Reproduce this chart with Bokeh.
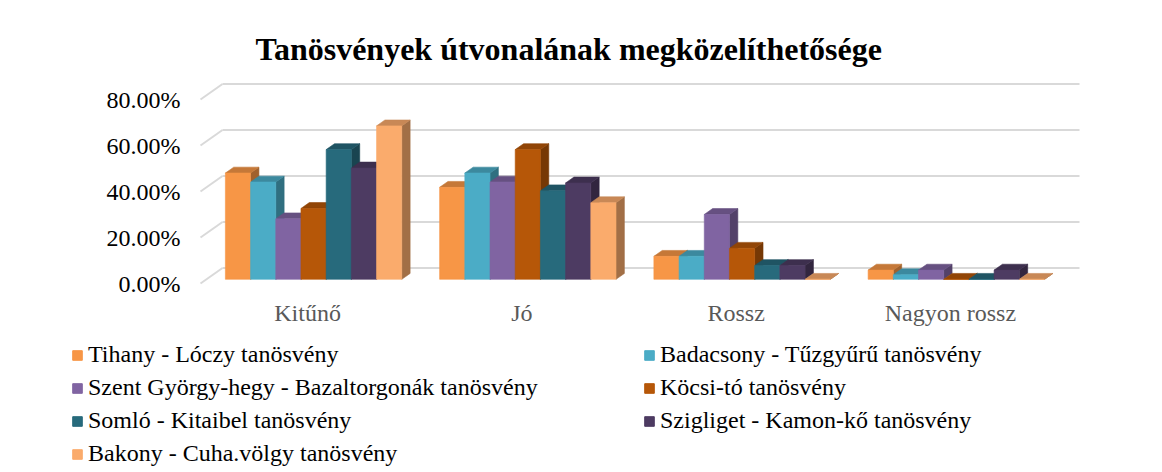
import numpy as np
from bokeh.plotting import figure
from bokeh.models import FixedTicker, PrintfTickFormatter, Legend, LegendItem, Range1d, Title
from bokeh.embed import file_html
from bokeh.resources import INLINE

categories = ["Kitűnő", "Jó", "Rossz", "Nagyon rossz"]
series_names = [
    "Tihany - Lóczy tanösvény",
    "Badacsony - Tűzgyűrű tanösvény",
    "Szent György-hegy - Bazaltorgonák tanösvény",
    "Köcsi-tó tanösvény",
    "Somló - Kitaibel tanösvény",
    "Szigliget - Kamon-kő tanösvény",
    "Bakony - Cuha.völgy tanösvény",
]
tihany = [46.2, 40.0, 10.0, 4.0]
badacsony = [42.3, 46.2, 10.0, 2.0]
szentgyorgy = [26.3, 42.3, 28.2, 4.0]
kocsito = [30.8, 56.4, 13.5, 0.0]
somlo = [56.4, 38.5, 6.0, 0.0]
szigliget = [48.4, 41.9, 6.0, 4.0]
bakony = [66.7, 33.3, 0.0, 0.0]
series_values = [tihany, badacsony, szentgyorgy, kocsito, somlo, szigliget, bakony]
series_colors = ["#F79646", "#4BACC6", "#8064A2", "#B65708", "#276A7C", "#4D3B62", "#FAAB6C"]
y_ticks = [0, 20, 40, 60, 80]

FONT = "Liberation Serif"
PX_X = 214.25
PX_Y = 2.3
DEPTH_X = 22 / PX_X
DEPTH_Y = 15.5 / PX_Y
Z0, Z1 = 0.27, 0.65
BAR_W = 0.1176
TOP_H = 335
TOTAL_W, TOTAL_H = 1162, 472


def shade(c, f):
    r, g, b = int(c[1:3], 16), int(c[3:5], 16), int(c[5:7], 16)
    return "#%02x%02x%02x" % (int(r * f), int(g * f), int(b * f))


p = figure(frame_width=910, frame_height=215,
           x_range=Range1d(-10 / PX_X, 900 / PX_X),
           y_range=Range1d(-7 / PX_Y, 208 / PX_Y),
           output_backend="svg", toolbar_location=None,
           min_border_left=190, min_border_right=62,
           min_border_top=75, min_border_bottom=TOP_H - 290)
p.outline_line_color = None
p.xgrid.visible = False
p.ygrid.visible = False
p.background_fill_color = "white"
p.border_fill_color = "white"

# walls gridlines
ncat = len(categories)
p.segment(x0=[DEPTH_X] * len(y_ticks), x1=[ncat + DEPTH_X] * len(y_ticks),
          y0=[v + DEPTH_Y for v in y_ticks], y1=[v + DEPTH_Y for v in y_ticks],
          line_color="#D9D9D9", line_width=2)
p.segment(x0=[0] * len(y_ticks), x1=[DEPTH_X] * len(y_ticks),
          y0=y_ticks, y1=[v + DEPTH_Y for v in y_ticks],
          line_color="#D9D9D9", line_width=2)

a, b = Z0 * DEPTH_X, Z0 * DEPTH_Y
c, d = Z1 * DEPTH_X, Z1 * DEPTH_Y
nser = len(series_values)
faces = {"side": [], "top": [], "front": []}
for j, vals in enumerate(series_values):
    sx, sy, tx, ty, fx, fy = [], [], [], [], [], []
    for i, v in enumerate(vals):
        L = i + 0.5 - nser / 2 * BAR_W + j * BAR_W
        R = L + BAR_W
        fx.append([L + a, R + a, R + a, L + a])
        fy.append([b, b, b + v, b + v])
        tx.append([L + a, R + a, R + c, L + c])
        ty.append([b + v, b + v, d + v, d + v])
        sx.append([R + a, R + c, R + c, R + a])
        sy.append([b, d, d + v, b + v])
    faces["side"].append((sx, sy, shade(series_colors[j], 0.65)))
    faces["top"].append((tx, ty, shade(series_colors[j], 0.8)))
    faces["front"].append((fx, fy, series_colors[j]))

for kind in ["side", "top", "front"]:
    for xs, ys, col in faces[kind]:
        p.patches(xs=xs, ys=ys, fill_color=col, line_color=col, line_width=0.6)

# axes
p.yaxis.ticker = FixedTicker(ticks=y_ticks)
p.yaxis.formatter = PrintfTickFormatter(format="%.2f%%")
p.yaxis.axis_line_color = None
p.yaxis.major_tick_line_color = None
p.yaxis.minor_tick_line_color = None
p.yaxis.major_label_text_font = FONT
p.yaxis.major_label_text_font_size = "24px"
p.yaxis.major_label_text_color = "#000000"
p.yaxis.major_label_standoff = 4

p.xaxis.ticker = FixedTicker(ticks=[i + 0.5 for i in range(ncat)])
p.xaxis.major_label_overrides = {i + 0.5: cat for i, cat in enumerate(categories)}
p.xaxis.axis_line_color = None
p.xaxis.major_tick_line_color = None
p.xaxis.minor_tick_line_color = None
p.xaxis.major_label_text_font = FONT
p.xaxis.major_label_text_font_size = "24px"
p.xaxis.major_label_text_color = "#595959"
p.xaxis.major_label_standoff = 3

title = Title(text="Tanösvények útvonalának megközelíthetősége", align="left", offset=65,
              text_font=FONT, text_font_size="32px", text_font_style="bold",
              text_color="#000000", standoff=17)
p.add_layout(title, "above")

# legend panel (separate root placed under the chart)
leg_h = TOTAL_H - TOP_H
p2 = figure(width=TOTAL_W, height=leg_h, x_range=Range1d(0, 1), y_range=Range1d(0, 1),
            x_axis_type=None, y_axis_type=None, output_backend="svg", toolbar_location=None,
            min_border=0)
p2.outline_line_color = None
p2.border_fill_color = "white"
p2.xgrid.visible = False
p2.ygrid.visible = False
swatches = []
for j in range(nser):
    swatches.append(p2.quad(left=[np.nan], right=[np.nan], bottom=[np.nan], top=[np.nan],
                            fill_color=series_colors[j], line_color=series_colors[j]))

legend = Legend(items=[LegendItem(label=series_names[k], renderers=[swatches[k]]) for k in range(nser)],
                location=(71, 5), orientation="horizontal", ncols=2)
legend.label_text_font = FONT
legend.label_text_font_size = "24px"
legend.label_text_color = "#000000"
legend.glyph_width = 12
legend.glyph_height = 12
legend.label_height = 27
legend.label_width = 549
legend.spacing = 6
legend.padding = 0
legend.margin = 0
legend.label_standoff = 5
legend.border_line_color = None
legend.background_fill_alpha = 0
p2.add_layout(legend, "center")

open("out.html", "w").write(file_html([p, p2], INLINE))
